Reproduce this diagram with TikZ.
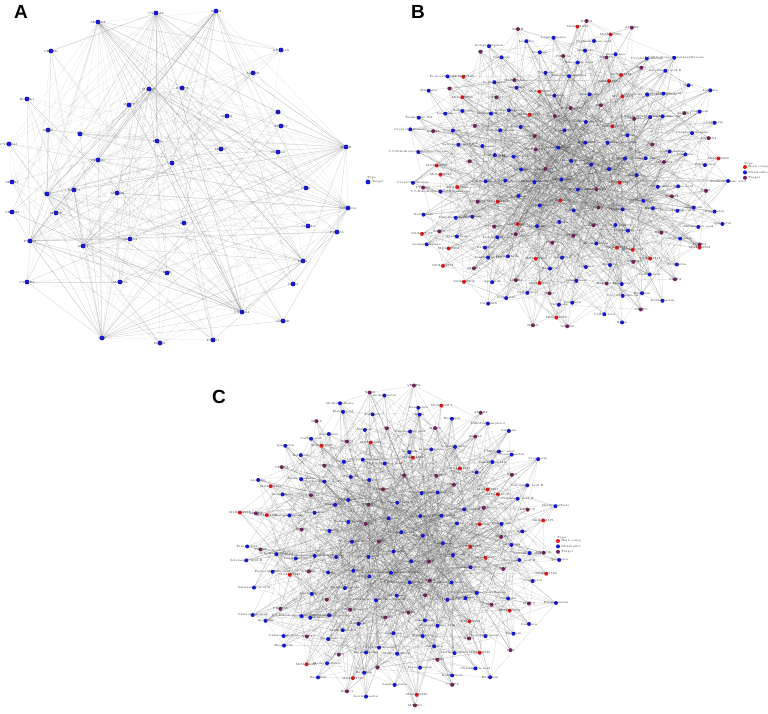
\documentclass[tikz,border=0pt]{standalone}
\usepackage{fontspec}
\setsansfont{Liberation Sans}
\usetikzlibrary{positioning}
\pgfdeclarelayer{bg}
\pgfsetlayers{bg,main}
\definecolor{tgtblue}{RGB}{20,20,225}
\definecolor{cmpred}{RGB}{235,25,25}
\definecolor{tgtpurple}{RGB}{120,35,95}

\pgfmathdeclarerandomlist{genes}{{AKT1}{TNF}{IL6}{PTGS2}{ESR1}{MAPK1}{CASP3}{EGFR}{VEGFA}{JUN}{MMP9}{STAT3}{HSP90AA1}{PPARG}{NOS3}{CYP3A4}{BCL2}{SRC}{MAPK14}{AR}{PIK3CA}{RELA}{ADRB2}{CHRM1}{ALOX5}{NR3C1}}
\pgfmathdeclarerandomlist{mets}{{Quercetin}{Kaempferol}{Isorhamnetin}{Luteolin}{Apigenin}{Naringenin}{Formononetin}{Ferulic acid}{Caffeic acid}{Protocatechuic acid}{Hesperetin}{5,7-Dihydroxy-4'-methoxyflavone}{Dihydrokaempferol}{Methyl caffeate}{Scopoletin}{Chlorogenic acid}{Baicalein}{Wogonin}{Liquiritigenin}{Isoliquiritigenin}{Genistein}{Daidzein}{Calycosin}{Rutin}{Tanshinone IIA}{Cryptotanshinone}{Salvianolic acid B}{Danshensu}}

\begin{document}
\begin{tikzpicture}[x=1pt,y=-1pt,
  dot/.style={circle,inner sep=0pt,minimum size=4pt,draw=none},
  bigdot/.style={dot,minimum size=4.8pt,fill=tgtblue},
  lbl/.style={font=\fontsize{3}{3.5}\selectfont,text=black!80,inner sep=0pt},
  edge/.style={draw=black!65,line width=0.22pt,opacity=0.32},
  faint/.style={draw=black!50,line width=0.22pt,opacity=0.25},
  panel/.style={font=\sffamily\bfseries\fontsize{19}{19}\selectfont}]
\useasboundingbox (0,0) rectangle (768,713);

% panel letters
\node[panel] (pA) at (21,12) {A};
\node[panel] (pB) at (418,12) {B};
\node[panel] (pC) at (219,397) {C};

% A: targets
\foreach \x/\y/\l [count=\i] in {98/22/SLC6A3, 156/13/CYP1A2, 216/11/NOS2,
  346/147/EGFR, 348/208/MAPK14, 303/261/ESR1, 242/312/CYP3A4, 102/338/TNF,
  30/241/PTGS2, 47/194/JUN, 149/89/MAPK1, 83/246/AKT1,
  51/51/CHRM1, 281/50/ADRA1A, 253/73/ADRB1, 182/88/CASP3, 27/99/BCL2L1,
  129/105/MMP9, 278/112/AR, 227/116/RELA, 281/126/EPHX2, 48/130/ESR2,
  80/134/IL6, 9/144/CYP19A1, 157/141/PGR, 221/149/HSP90, 278/152/NCOA2,
  98/160/PPARG, 172/163/F2, 12/182/ALOX5, 306/188/PIM1, 74/190/NR3C1,
  117/193/ADRB2, 12/212/CHRM2, 56/213/MMP2, 184/223/SRC, 308/226/CCNA2,
  337/232/PRKCA, 130/239/SLC6A4, 167/273/KDR, 27/282/CYP1B1,
  120/282/MAPK3, 293/284/NOS3, 283/321/GSK3B, 160/343/RXRA, 213/340/PTGS1}
  \node[bigdot,label={[lbl]center:\l}] (a\i) at (\x,\y) {};

\node[bigdot] (aleg) at (368,182) {};
\node[lbl,right=1pt of aleg] (alegt) {Target};
\node[lbl,above right=0.5pt and -3pt of aleg] (alegh) {Type};

\begin{pgfonlayer}{bg}
\pgfmathsetseed{271}
\foreach \i in {1,...,46}{
  \foreach \k in {1,...,8}{
    \pgfmathtruncatemacro\h{1+12*rnd}
    \draw[faint] (a\i) -- (a\h);
  }
  \foreach \k in {1,2}{
    \pgfmathtruncatemacro\h{1+46*rnd}
    \draw[faint] (a\i) -- (a\h);
  }
}
\end{pgfonlayer}

% B: herb compounds, metabolites, targets (every 4th node a target)
\pgfmathsetseed{4711}
\foreach \i in {1,...,190}{
  \pgfmathsetmacro\rr{sqrt((\i-0.5)/190)*(0.96+0.08*rnd)}
  \pgfmathsetmacro\ang{360*frac(\i*0.381966)+10*rnd}
  \pgfmathsetmacro\px{568+166*\rr*cos(\ang)}
  \pgfmathsetmacro\py{174+156*\rr*sin(\ang)}
  \pgfmathtruncatemacro\kk{100*rnd}
  \pgfmathtruncatemacro\idn{1000+8999*rnd}
  \pgfmathtruncatemacro\m{mod(\i,4)}
  \ifnum\m=0
    \def\col{tgtpurple}\pgfmathrandomitem\nm{genes}
  \else\ifnum\kk<24
    \def\col{cmpred}\edef\nm{MOL00\idn}
  \else
    \def\col{tgtblue}\pgfmathrandomitem\nm{mets}
  \fi\fi
  \node[dot,fill=\col,label={[lbl]center:\nm}] (b\i) at (\px,\py) {};
}

\begin{pgfonlayer}{bg}
\foreach \i in {1,...,190}{
  \foreach \k in {1,...,3}{
    \pgfmathtruncatemacro\h{4*(1+46*rnd*rnd*rnd)}
    \draw[edge] (b\i) -- (b\h);
  }
  \foreach \k in {1,...,3}{
    \pgfmathtruncatemacro\h{4*(1+46*rnd)}
    \draw[edge] (b\i) -- (b\h);
  }
}
\end{pgfonlayer}

\node[dot,fill=cmpred] (bleg1) at (745,167) {};
\node[dot,fill=tgtblue,below=1pt of bleg1] (bleg2) {};
\node[dot,fill=tgtpurple,below=1pt of bleg2] (bleg3) {};
\node[lbl,right=1pt of bleg1] {Herb comp};
\node[lbl,right=1pt of bleg2] {Metabolite};
\node[lbl,right=1pt of bleg3] {Target};
\node[lbl,above right=0.5pt and -3pt of bleg1] {Type};

% C: herb compounds, metabolites, targets (every 4th node a target)
\pgfmathsetseed{9090}
\foreach \i in {1,...,188}{
  \pgfmathsetmacro\rr{sqrt((\i-0.5)/188)*(0.96+0.08*rnd)}
  \pgfmathsetmacro\ang{360*frac(\i*0.381966)+10*rnd}
  \pgfmathsetmacro\px{400+163*\rr*cos(\ang)}
  \pgfmathsetmacro\py{546+160*\rr*sin(\ang)}
  \pgfmathtruncatemacro\kk{100*rnd}
  \pgfmathtruncatemacro\idn{1000+8999*rnd}
  \pgfmathtruncatemacro\m{mod(\i,4)}
  \ifnum\m=0
    \def\col{tgtpurple}\pgfmathrandomitem\nm{genes}
  \else\ifnum\kk<18
    \def\col{cmpred}\edef\nm{MOL00\idn}
  \else
    \def\col{tgtblue}\pgfmathrandomitem\nm{mets}
  \fi\fi
  \node[dot,fill=\col,label={[lbl]center:\nm}] (c\i) at (\px,\py) {};
}

\begin{pgfonlayer}{bg}
\foreach \i in {1,...,188}{
  \foreach \k in {1,...,3}{
    \pgfmathtruncatemacro\h{4*(1+46*rnd*rnd*rnd)}
    \draw[edge] (c\i) -- (c\h);
  }
  \foreach \k in {1,...,3}{
    \pgfmathtruncatemacro\h{4*(1+46*rnd)}
    \draw[edge] (c\i) -- (c\h);
  }
}
\end{pgfonlayer}

\node[dot,fill=cmpred] (cleg1) at (558,541) {};
\node[dot,fill=tgtblue,below=1pt of cleg1] (cleg2) {};
\node[dot,fill=tgtpurple,below=1pt of cleg2] (cleg3) {};
\node[lbl,right=1pt of cleg1] {Herb comp};
\node[lbl,right=1pt of cleg2] {Metabolite};
\node[lbl,right=1pt of cleg3] {Target};
\node[lbl,above right=0.5pt and -3pt of cleg1] {Type};
\end{tikzpicture}
\end{document}
